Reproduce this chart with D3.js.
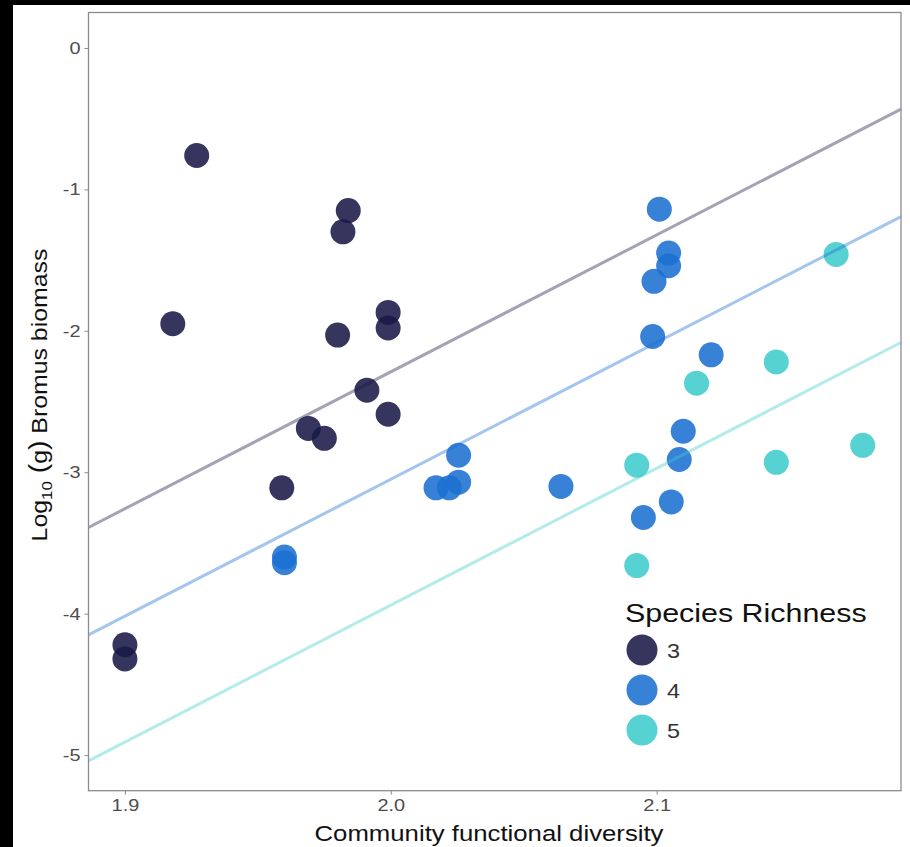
<!DOCTYPE html>
<html>
<head>
<meta charset="utf-8">
<script src="https://cdn.jsdelivr.net/npm/d3@7"></script>
<style>
    body { margin: 0; background: #000; }
    svg { display: block; }
    text { font-family: "Liberation Sans", Arial, sans-serif; }
</style>
</head>
<body>
<div id="chart"></div>
<script>

// Species richness groups
var richness = ["3", "4", "5"];
var colors = ["#191947", "#1b6fd2", "#40cccc"];

// Community functional diversity (x) and log10 Bromus biomass (y), per group
var fd3 = [1.927, 1.984, 1.982, 1.918, 1.999, 1.999, 1.980, 1.991, 1.999, 1.969, 1.975, 1.959, 1.900, 1.900];
var bio3 = [-0.76, -1.15, -1.30, -1.95, -1.87, -1.98, -2.03, -2.42, -2.59, -2.69, -2.76, -3.11, -4.22, -4.32];

var fd4 = [2.101, 2.1045, 2.1045, 2.099, 2.0985, 2.1205, 2.110, 2.1085, 2.1055, 2.095, 2.064, 2.0255, 2.0255, 2.022, 2.017, 1.960, 1.960];
var bio4 = [-1.14, -1.45, -1.54, -1.65, -2.04, -2.17, -2.71, -2.91, -3.21, -3.32, -3.10, -2.88, -3.07, -3.11, -3.11, -3.60, -3.64];

var fd5 = [2.1675, 2.145, 2.115, 2.0925, 2.0925, 2.145, 2.1775];
var bio5 = [-1.46, -2.22, -2.37, -2.95, -3.66, -2.93, -2.81];

// fitted lines (common slope, one intercept per group)
var fitSlope = 9.68;
var fitIntercept = [-21.65, -22.41, -23.30];

var xTicks = [1.9, 2.0, 2.1];
var yTicks = [0, -1, -2, -3, -4, -5];


var margin = {top: 12.5, right: 9, bottom: 56.3, left: 88.5};
var width = 910 - margin.left - margin.right;
var height = 847 - margin.top - margin.bottom;

// the reference text is set wider than Liberation Sans, so stretch it a bit
var sx = 1.17;

var svgRoot = d3.select("#chart").append("svg")
    .attr("width", 910)
    .attr("height", 847);

// white page (the reference has a black strip on the left and top)
svgRoot.append("rect")
    .attr("x", 13)
    .attr("y", 5)
    .attr("width", 910 - 13)
    .attr("height", 847 - 5)
    .attr("fill", "#fff");

var svg = svgRoot.append("g")
    .attr("transform", "translate(" + margin.left + "," + margin.top + ")");

var x = d3.scaleLinear()
    .domain([1.8863, 2.1919])
    .range([0, width]);

var y = d3.scaleLinear()
    .domain([0.251, -5.252])
    .range([0, height]);

var points = [];
[[fd3, bio3], [fd4, bio4], [fd5, bio5]].forEach(function(pair, i) {
    pair[0].forEach(function(v, j) {
        points.push({fd: v, bio: pair[1][j], group: i});
    });
});

// points
svg.selectAll("circle.pt")
    .data(points)
    .enter()
    .append("circle")
    .attr("class", "pt")
    .attr("cx", d => x(d.fd))
    .attr("cy", d => y(d.bio))
    .attr("r", 12.5)
    .attr("fill", d => colors[d.group])
    .attr("fill-opacity", 0.88);

// regression lines
var xd = x.domain();
svg.selectAll("line.fit")
    .data(fitIntercept)
    .enter()
    .append("line")
    .attr("class", "fit")
    .attr("x1", x(xd[0]))
    .attr("x2", x(xd[1]))
    .attr("y1", d => y(d + fitSlope * xd[0]))
    .attr("y2", d => y(d + fitSlope * xd[1]))
    .attr("stroke", (d, i) => colors[i])
    .attr("stroke-opacity", 0.4)
    .attr("stroke-width", 3);

// axes
var xAxis = d3.axisBottom(x)
    .tickValues(xTicks)
    .tickFormat(d3.format(".1f"))
    .tickSize(4)
    .tickPadding(4);

var yAxis = d3.axisLeft(y)
    .tickValues(yTicks)
    .tickFormat(d => d === 0 ? "0" : "-" + Math.abs(d))
    .tickSize(4)
    .tickPadding(4);

var gx = svg.append("g")
    .attr("transform", "translate(0," + height + ")")
    .call(xAxis);

var gy = svg.append("g")
    .call(yAxis);

[gx, gy].forEach(function(g) {
    g.select(".domain").remove();
    g.selectAll(".tick line").attr("stroke", "#8c8c8c");
    g.selectAll(".tick text")
        .attr("fill", "#4d4d4d")
        .style("font-size", "17px")
        .style("font-family", "Liberation Sans, Arial, sans-serif");
});
gx.selectAll(".tick text").attr("transform", "scale(" + sx + ",1)");
gy.selectAll(".tick text").attr("transform", "translate(-8,0) scale(" + sx + ",1) translate(8,0)");

// panel border
svg.append("rect")
    .attr("width", width)
    .attr("height", height)
    .attr("fill", "none")
    .attr("stroke", "#8c8c8c")
    .attr("stroke-width", 1.3);

// axis titles
svgRoot.append("g")
    .attr("transform", "translate(489,841) scale(" + sx + ",1)")
    .append("text")
    .attr("text-anchor", "middle")
    .style("font-size", "22px")
    .attr("fill", "#111")
    .text("Community functional diversity");

var yTitle = svgRoot.append("g")
    .attr("transform", "translate(47,395) rotate(-90) scale(1.13,1)")
    .append("text")
    .attr("text-anchor", "middle")
    .style("font-size", "22px")
    .attr("fill", "#111");
yTitle.append("tspan").text("Log");
yTitle.append("tspan").attr("dy", 5).style("font-size", "15px").text("10");
yTitle.append("tspan").attr("dy", -5).style("font-size", "25px").text(" (");
yTitle.append("tspan").text("g");
yTitle.append("tspan").style("font-size", "25px").text(")");
yTitle.append("tspan").text(" Bromus biomass");

// legend
var legend = svgRoot.append("g")
    .attr("transform", "translate(625,0)");

legend.append("text")
    .attr("transform", "translate(0,622) scale(" + sx + ",1)")
    .style("font-size", "26px")
    .attr("fill", "#111")
    .text("Species Richness");

var keys = legend.selectAll("g.key")
    .data(richness)
    .enter()
    .append("g")
    .attr("class", "key")
    .attr("transform", (d, i) => "translate(0," + (650 + i * 40) + ")");

keys.append("circle")
    .attr("cx", 17)
    .attr("cy", 0)
    .attr("r", 15.5)
    .attr("fill", (d, i) => colors[i])
    .attr("fill-opacity", 0.88);

keys.append("text")
    .attr("transform", "translate(42,7.5) scale(" + sx + ",1)")
    .style("font-size", "20px")
    .attr("fill", "#333")
    .text(d => d);

</script>
</body>
</html>
